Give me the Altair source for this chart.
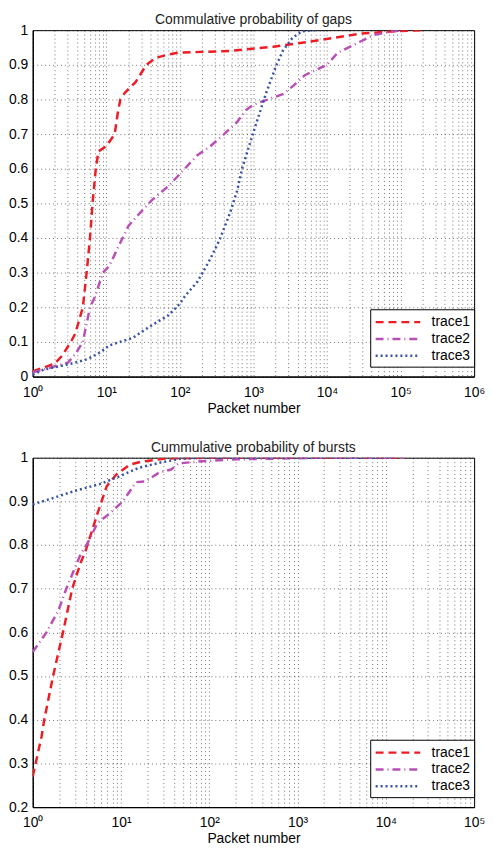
import altair as alt
import pandas as pd

names = ["trace1", "trace2", "trace3"]
colors = ["#ee1d25", "#b94fb4", "#3652a5"]
dashes = [[8, 5], [8, 4, 1, 4], [2, 3]]

# ---- top chart: gaps ----
gap1_x = [1, 1.5, 2, 2.5, 3.3, 3.8, 4.8, 5.4, 6.0, 6.5, 7.2, 7.8, 10, 13, 14.3, 15.5, 18, 25, 35, 47, 70, 95, 480, 1850, 6300, 29000, 80000, 220000]
gap1_y = [0.015, 0.028, 0.038, 0.06, 0.1, 0.125, 0.2, 0.3, 0.4, 0.5, 0.6, 0.65, 0.665, 0.7, 0.76, 0.8, 0.82, 0.85, 0.9, 0.92, 0.93, 0.935, 0.94, 0.952, 0.968, 0.99, 0.997, 1.0]

gap2_x = [1, 1.5, 2, 3, 3.8, 4.8, 6, 7, 9, 11, 15, 20, 28, 42, 70, 100, 175, 260, 400, 600, 800, 1000, 1350, 2500, 3500, 5000, 10000, 14000, 29000, 43000, 80000, 110000]
gap2_y = [0.012, 0.022, 0.03, 0.04, 0.065, 0.1, 0.2, 0.23, 0.3, 0.32, 0.38, 0.435, 0.47, 0.51, 0.55, 0.585, 0.64, 0.665, 0.70, 0.735, 0.77, 0.785, 0.795, 0.815, 0.84, 0.87, 0.9, 0.935, 0.968, 0.986, 0.997, 1.0]

gap3_x = [1, 1.4, 3.3, 5.5, 8.3, 11, 23, 38, 70, 100, 118, 175, 260, 350, 480, 600, 700, 800, 1100, 1480, 2000, 2500, 3400, 4600, 7000]
gap3_y = [0.005, 0.02, 0.037, 0.05, 0.07, 0.09, 0.112, 0.143, 0.177, 0.21, 0.233, 0.275, 0.34, 0.397, 0.472, 0.536, 0.6, 0.64, 0.733, 0.817, 0.893, 0.94, 0.978, 0.997, 1.0]

# ---- bottom chart: bursts ----
bur1_x = [1, 1.26, 1.35, 1.7, 2.2, 2.8, 3.5, 4.0, 5.4, 6.9, 8.9, 12.6, 17, 32, 100, 15500]
bur1_y = [0.27, 0.362, 0.4, 0.5, 0.6, 0.7, 0.76, 0.789, 0.872, 0.935, 0.962, 0.984, 0.991, 0.998, 1.0, 1.0]

bur2_x = [1, 1.43, 1.95, 2.4, 3.5, 4.2, 5.4, 7.4, 10.5, 14.8, 19, 27, 37, 45, 74, 170, 620, 2000, 16000]
bur2_y = [0.555, 0.6, 0.65, 0.7, 0.78, 0.805, 0.85, 0.872, 0.9, 0.944, 0.946, 0.966, 0.973, 0.987, 0.991, 0.996, 0.998, 1.0, 1.0]

bur3_x = [1, 1.6, 3.0, 5.8, 9.5, 16, 28, 48, 100, 12000]
bur3_y = [0.893, 0.906, 0.924, 0.94, 0.957, 0.977, 0.989, 0.998, 1.0, 1.0]

top_decades = [1, 10, 100, 1000, 10000, 100000, 1000000]
bot_decades = [1, 10, 100, 1000, 10000, 100000]
sup = ["\u2070", "\u00b9", "\u00b2", "\u00b3", "\u2074", "\u2075", "\u2076"]
top_yticks = [0, 0.1, 0.2, 0.3, 0.4, 0.5, 0.6, 0.7, 0.8, 0.9, 1]
bot_yticks = [0.2, 0.3, 0.4, 0.5, 0.6, 0.7, 0.8, 0.9, 1]

FONT = "Liberation Sans"


def make_df(series):
    rows = []
    for name, xs, ys in series:
        for i, (x, y) in enumerate(zip(xs, ys)):
            rows.append({"trace": name, "x": x, "y": y, "i": i})
    return pd.DataFrame(rows)


def minor_ticks(decades):
    vals = []
    for d in decades[:-1]:
        vals += [d * k for k in range(1, 10)]
    vals.append(decades[-1])
    return vals


def label_expr(decades):
    arr = "[" + ",".join(str(d) for d in decades) + "]"
    sarr = "[" + ",".join("'" + s + "'" for s in sup[: len(decades)]) + "]"
    return (f"indexof({arr}, datum.value) >= 0 ? '10' + {sarr}[indexof({arr}, datum.value)] : ''")


W = 446


def panel(df, title, decades, yticks, ydomain, H):
    leg = alt.Legend(
        orient="none", legendX=W - 105, legendY=H - 68, title=None,
        strokeColor="black", fillColor="white", padding=4,
        labelFontSize=14, labelFont=FONT, labelColor="black",
        symbolType="M-3,0H3", symbolSize=225, symbolStrokeWidth=2.5,
        symbolOffset=15, labelOffset=25,
        rowPadding=1,
    )
    return alt.Chart(df).mark_line(strokeWidth=2.5, clip=True).encode(
        x=alt.X("x:Q",
                scale=alt.Scale(type="log", domain=[decades[0], decades[-1]], nice=False),
                axis=alt.Axis(values=minor_ticks(decades), labelExpr=label_expr(decades),
                              title="Packet number", labelOverlap=False, labelFlush=False,
                              labelPadding=9)),
        y=alt.Y("y:Q", scale=alt.Scale(domain=ydomain, nice=False, zero=False),
                axis=alt.Axis(values=yticks, format="~g", title=None, labelPadding=5)),
        color=alt.Color("trace:N", scale=alt.Scale(domain=names, range=colors), legend=leg),
        strokeDash=alt.StrokeDash("trace:N", scale=alt.Scale(domain=names, range=dashes), legend=leg),
        order="i:Q",
    ).properties(width=W, height=H, title=alt.Title(title, fontSize=14, fontWeight="normal",
                                                    font=FONT, color="#222", offset=-4))


top = panel(make_df([("trace1", gap1_x, gap1_y), ("trace2", gap2_x, gap2_y), ("trace3", gap3_x, gap3_y)]),
            "Commulative probability of gaps", top_decades, top_yticks, [0, 1], 350)
bot = panel(make_df([("trace1", bur1_x, bur1_y), ("trace2", bur2_x, bur2_y), ("trace3", bur3_x, bur3_y)]),
            "Cummulative probability of bursts", bot_decades, bot_yticks, [0.2, 1], 353)

chart = alt.vconcat(top, bot, spacing=24).properties(padding=0).resolve_scale(
    color="independent", strokeDash="independent"
).resolve_legend(
    color="independent", strokeDash="independent"
).configure_view(
    stroke="black", strokeWidth=1
).configure_axis(
    grid=True, gridDash=[1, 3], gridColor="#000", gridOpacity=0.55, gridWidth=1,
    domainColor="black", domainWidth=1.2, tickSize=0, labelPadding=4,
    labelFont=FONT, labelFontSize=14, labelColor="black",
    titleFont=FONT, titleFontSize=14, titleFontWeight="normal", titleColor="black", titlePadding=2,
).configure_legend(symbolLimit=0)

chart.save("out.html", embed_options={"renderer": "svg", "actions": False})
